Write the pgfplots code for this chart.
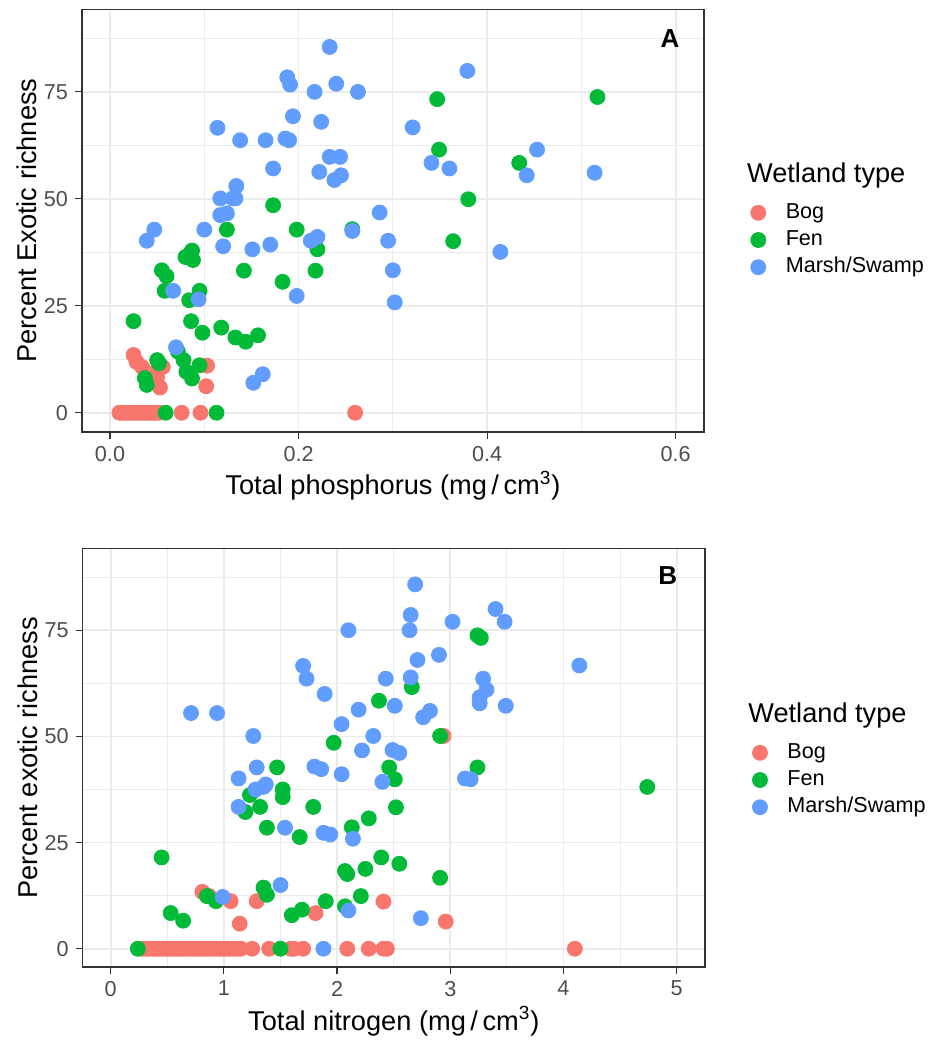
\documentclass[border=0pt]{standalone}
\usepackage{fontspec}
\setmainfont{Liberation Sans}
\usepackage{pgfplots}
\pgfplotsset{compat=1.18}

\definecolor{bog}{HTML}{F8766D}
\definecolor{fen}{HTML}{00BA38}
\definecolor{marsh}{HTML}{619CFF}
\definecolor{gridc}{HTML}{EBEBEB}
\definecolor{framec}{HTML}{333333}
\definecolor{ticklab}{HTML}{4D4D4D}

\pgfplotsset{
  wetland/.style={
    scale only axis,
    clip=false,
    axis line style={draw=framec, line width=0.6pt},
    tick style={draw=framec, line width=0.6pt},
    major tick length=3.5pt,
    minor tick length=0pt,
    tick align=outside,
    tick pos=left,
    grid=both,
    major grid style={draw=gridc, line width=0.9pt},
    minor grid style={draw=gridc, line width=0.45pt},
    ticklabel style={font=\fontsize{10.8}{12}\selectfont, text=ticklab},
    /pgf/number format/assume math mode=true,
    every axis x label/.style={at={(axis description cs:0.5,0)}, anchor=base, yshift=-31.5pt,
      font=\fontsize{13.6}{16}\selectfont},
    every axis y label/.style={at={(axis description cs:-0.0884,0.5)}, rotate=90, anchor=center,
      font=\fontsize{13.6}{16}\selectfont},
    legend cell align=left,
    legend style={draw=none, fill=none, anchor=west, inner sep=0pt, outer sep=0pt,
      row sep=3.6pt, column sep=10pt,
      font=\fontsize{10.8}{12}\selectfont,
      nodes={inner sep=0pt, text height=7.8pt, text depth=2.2pt}},
    legend image code/.code={\draw[#1,only marks] plot coordinates {(0pt,0pt)};},
    every axis plot/.append style={only marks, mark=*, mark size=3.75pt, mark options={draw=none}},
  },
}

\begin{document}
\begin{tikzpicture}
\useasboundingbox (0,0) rectangle (468.5pt,525pt);

% Panel A: phosphorus
\begin{axis}[wetland,
  at={(41pt,309pt)}, anchor=south west,
  width=311pt, height=211.35pt,
  xmin=-0.0297, xmax=0.63, ymin=-4.5, ymax=94.3,
  xtick={0,0.2,0.4,0.6}, minor xtick={0.1,0.3,0.5},
  ytick={0,25,50,75}, minor ytick={12.5,37.5,62.5,87.5},
  xticklabel style={/pgf/number format/.cd, fixed, fixed zerofill, precision=1},
  xlabel={Total phosphorus (mg\,/\,cm\textsuperscript{3})},
  ylabel={Percent Exotic richness},
  legend style={at={(axis description cs:1.0752,0.4542)}},
]
\addplot[bog] coordinates {
  (0.010,0) (0.013,0) (0.016,0) (0.019,0) (0.022,0) (0.025,0) (0.028,0)
  (0.031,0) (0.034,0) (0.037,0) (0.040,0) (0.043,0) (0.046,0) (0.049,0)
  (0.052,0) (0.076,0) (0.096,0) (0.260,0)
  (0.025,13.5) (0.028,11.9) (0.034,10.7) (0.050,10.0) (0.056,10.7)
  (0.050,8.4) (0.053,5.9) (0.103,11.0) (0.102,6.2)
};
\addplot[fen] coordinates {
  (0.173,48.5) (0.124,42.8) (0.198,42.8) (0.220,38.2) (0.218,33.2) (0.183,30.6)
  (0.142,33.2) (0.080,36.4) (0.085,37.2) (0.088,35.7) (0.087,37.9) (0.055,33.3)
  (0.060,31.9) (0.058,28.5) (0.084,26.3) (0.095,28.5) (0.025,21.4) (0.086,21.4)
  (0.098,18.7) (0.118,19.9) (0.133,17.6) (0.144,16.6) (0.157,18.1) (0.037,8.1)
  (0.039,6.5) (0.050,12.3) (0.052,11.6) (0.072,14.3) (0.078,12.3) (0.081,9.6)
  (0.087,8.0) (0.095,11.1) (0.059,0) (0.113,0) (0.347,73.3) (0.517,73.8)
  (0.349,61.5) (0.434,58.4) (0.380,49.9) (0.364,40.1) (0.257,42.9)
};
\addplot[marsh] coordinates {
  (0.233,85.5) (0.188,78.4) (0.191,76.7) (0.240,76.9) (0.263,75.0) (0.217,75.0)
  (0.379,79.9) (0.194,69.3) (0.224,68.0) (0.114,66.6) (0.321,66.7) (0.138,63.7)
  (0.165,63.7) (0.186,64.1) (0.190,63.7) (0.453,61.5) (0.233,59.8) (0.244,59.8)
  (0.341,58.4) (0.173,57.1) (0.360,57.1) (0.222,56.3) (0.238,54.4) (0.245,55.5)
  (0.442,55.5) (0.514,56.1) (0.134,53.0) (0.117,50.1) (0.130,50.1) (0.133,50.1)
  (0.117,46.2) (0.124,46.6) (0.100,42.8) (0.047,42.8) (0.039,40.2) (0.120,38.9)
  (0.151,38.2) (0.170,39.3) (0.213,40.2) (0.220,41.1) (0.257,42.5) (0.286,46.8)
  (0.295,40.2) (0.414,37.6) (0.300,33.3) (0.302,25.8) (0.198,27.3) (0.067,28.5)
  (0.094,26.5) (0.070,15.3) (0.152,7.0) (0.162,9.0)
};
\legend{Bog, Fen, Marsh/Swamp}
\node[anchor=west, inner sep=0pt, font=\fontsize{13.6}{16}\selectfont] at (axis description cs:1.0687,0.608) {Wetland type};
\node[font=\bfseries\fontsize{13}{15}\selectfont] at (axis cs:0.594,87.5) {A};
\end{axis}

% Panel B: nitrogen
\begin{axis}[wetland,
  at={(41.35pt,41.5pt)}, anchor=south west,
  width=311.15pt, height=209.25pt,
  xmin=-0.247, xmax=5.25, ymin=-4.3, ymax=94.25,
  xtick={0,1,2,3,4,5}, minor xtick={0.5,1.5,2.5,3.5,4.5},
  ytick={0,25,50,75}, minor ytick={12.5,37.5,62.5,87.5},
  xlabel={Total nitrogen (mg\,/\,cm\textsuperscript{3})},
  ylabel={Percent exotic richness},
  legend style={at={(axis description cs:1.0763,0.4468)}},
]
\addplot[bog] coordinates {
  (0.28,0) (0.31,0) (0.34,0) (0.37,0) (0.40,0) (0.43,0) (0.46,0) (0.49,0)
  (0.52,0) (0.55,0) (0.58,0) (0.61,0) (0.64,0) (0.67,0) (0.70,0) (0.73,0)
  (0.76,0) (0.79,0) (0.82,0) (0.85,0) (0.88,0) (0.91,0) (0.94,0) (0.97,0)
  (1.00,0) (1.03,0) (1.06,0) (1.09,0) (1.12,0) (1.15,0)
  (1.25,0) (1.40,0) (1.59,0) (1.62,0) (1.70,0) (2.09,0) (2.28,0) (2.41,0)
  (2.44,0) (4.10,0)
  (0.81,13.4) (0.87,12.4) (1.06,11.2) (1.29,11.2) (1.14,5.9) (1.81,8.4)
  (2.41,11.1) (2.96,6.4) (2.94,50.1)
};
\addplot[fen] coordinates {
  (1.97,48.5) (1.47,42.7) (1.52,37.5) (1.52,35.7) (1.23,36.2) (1.19,32.2)
  (1.32,33.4) (1.79,33.4) (1.38,28.5) (1.67,26.3) (2.13,28.6) (0.45,21.5)
  (2.07,18.3) (2.09,17.6) (1.35,14.4) (1.38,12.7) (0.85,12.4) (0.93,11.2)
  (1.90,11.2) (2.07,10.0) (1.60,7.9) (1.69,9.2) (0.53,8.4) (0.64,6.6)
  (0.24,0) (1.50,0) (3.24,73.8) (3.27,73.2) (2.66,61.6) (2.37,58.4)
  (2.91,50.1) (2.46,42.7) (2.51,39.9) (3.24,42.7) (4.74,38.1) (2.52,33.3)
  (2.28,30.7) (2.39,21.5) (2.55,20.0) (2.25,18.8) (2.91,16.7) (2.21,12.4)
};
\addplot[marsh] coordinates {
  (2.10,75.0) (1.70,66.6) (1.73,63.6) (1.89,60.0) (0.71,55.5) (0.94,55.5)
  (2.04,52.9) (1.26,50.1) (1.29,42.7) (1.80,42.9) (1.86,42.3) (2.04,41.1)
  (1.13,40.1) (1.28,37.5) (1.35,38.1) (1.37,38.7) (1.13,33.4) (1.54,28.5)
  (1.88,27.3) (1.94,26.9) (2.14,25.9) (1.50,15.0) (0.99,12.2) (2.10,9.0)
  (1.88,0) (2.69,85.8) (3.40,80.0) (2.65,78.6) (2.64,75.0) (3.02,77.0)
  (3.48,77.0) (2.90,69.2) (2.71,68.0) (4.14,66.7) (2.43,63.6) (2.65,63.9)
  (3.29,63.6) (3.32,61.0) (3.26,59.2) (3.26,57.8) (3.49,57.2) (2.19,56.3)
  (2.51,57.2) (2.76,54.5) (2.82,56.0) (2.32,50.1) (2.22,46.7) (2.49,46.8)
  (2.55,46.1) (2.40,39.3) (3.13,40.1) (3.18,39.9) (2.74,7.2)
};
\legend{Bog, Fen, Marsh/Swamp}
\node[anchor=west, inner sep=0pt, font=\fontsize{13.6}{16}\selectfont] at (axis description cs:1.069,0.602) {Wetland type};
\node[font=\bfseries\fontsize{13}{15}\selectfont] at (axis cs:4.92,87.8) {B};
\end{axis}
\end{tikzpicture}
\end{document}
